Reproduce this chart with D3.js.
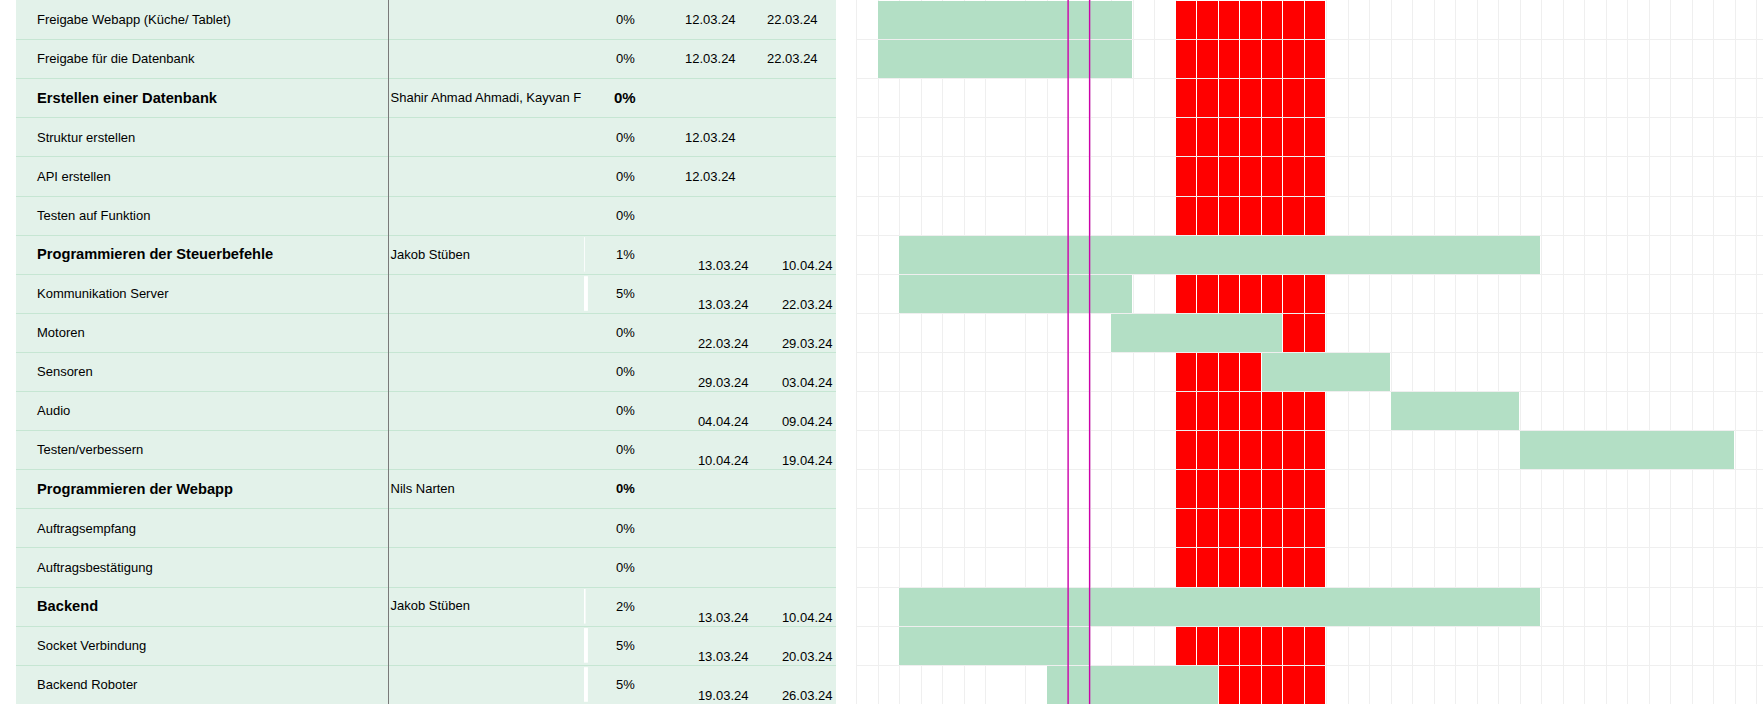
<!DOCTYPE html>
<html>
<head>
<meta charset="utf-8">
<script src="https://cdn.jsdelivr.net/npm/d3@7"></script>
<style>
  html, body { margin: 0; padding: 0; background: #ffffff; }
  svg { display: block; }
  text { font-family: 'Liberation Sans', Arial, sans-serif; fill: #000; }
</style>
</head>
<body>
<svg id="chart" width="1763" height="704"></svg>
<script>
// ---------------- DATA ----------------
const tasks = [
  "Freigabe Webapp (Küche/ Tablet)",
  "Freigabe für die Datenbank",
  "Erstellen einer Datenbank",
  "Struktur erstellen",
  "API erstellen",
  "Testen auf Funktion",
  "Programmieren der Steuerbefehle",
  "Kommunikation Server",
  "Motoren",
  "Sensoren",
  "Audio",
  "Testen/verbessern",
  "Programmieren der Webapp",
  "Auftragsempfang",
  "Auftragsbestätigung",
  "Backend",
  "Socket Verbindung",
  "Backend Roboter"
];
const isGroup = [false,false,true,false,false,false,true,false,false,false,false,false,true,false,false,true,false,false];
const assignees = ["","","Shahir Ahmad Ahmadi, Kayvan F","","","","Jakob Stüben","","","","","","Nils Narten","","","Jakob Stüben","",""];
const progress = [0,0,0,0,0,0,1,5,0,0,0,0,0,0,0,2,5,5];
const startDates = ["12.03.24","12.03.24","","12.03.24","12.03.24","","13.03.24","13.03.24","22.03.24","29.03.24","04.04.24","10.04.24","","","","13.03.24","13.03.24","19.03.24"];
const endDates   = ["22.03.24","22.03.24","","","","","10.04.24","22.03.24","29.03.24","03.04.24","09.04.24","19.04.24","","","","10.04.24","20.03.24","26.03.24"];
const holidayRange = ["25.03.24", "31.03.24"];
const todayDate = "20.03.24";
const calendarRange = ["11.03.24", "22.04.24"];
// the sheet's 17.03 column is wider than the others
const wideColumn = "17.03.24";

// ---------------- LAYOUT ----------------
const W = 1763, H = 704;
const rowH = 39.1;
const panelX0 = 16, panelX1 = 836;
const nameX = 37, assigneeX = 390.5, dividerX = 388.5;
const progX = 584, progW = 78;
const pctX = 616;
const parse = d3.utcParse("%d.%m.%y");

const svg = d3.select("#chart");

const y = d3.scaleLinear().domain([0, tasks.length]).range([0, rowH * tasks.length]);

const calStart = parse(calendarRange[0]);
const calEnd = parse(calendarRange[1]);
const wideStart = parse(wideColumn);
const wideEnd = d3.utcDay.offset(wideStart, 1);
const x = d3.scaleUtc()
  .domain([calStart, wideStart, wideEnd, calEnd])
  .range([856.2, 985.4, 1025.3, 1777.8]);

const days = d3.utcDay.range(calStart, calEnd);

// ---------------- LEFT PANEL ----------------
const panel = svg.append("g");
panel.append("rect")
  .attr("x", panelX0).attr("y", 0)
  .attr("width", panelX1 - panelX0).attr("height", H)
  .attr("fill", "#e3f2ea");

panel.selectAll("line.rowsep")
  .data(d3.range(1, tasks.length))
  .join("line")
  .attr("x1", panelX0).attr("x2", panelX1)
  .attr("y1", d => Math.round(y(d)) + 0.5).attr("y2", d => Math.round(y(d)) + 0.5)
  .attr("stroke", "#c6e6d3").attr("stroke-width", 1);

panel.append("line")
  .attr("x1", dividerX).attr("x2", dividerX)
  .attr("y1", 0).attr("y2", H)
  .attr("stroke", "#7a7a7a").attr("stroke-width", 1);

const rows = panel.selectAll("g.row")
  .data(tasks.map((t, i) => ({ i, t })))
  .join("g")
  .attr("class", "row");

// progress bars
rows.filter(d => progress[d.i] > 0)
  .append("rect")
  .attr("x", progX)
  .attr("y", d => y(d.i) + 2.5)
  .attr("width", d => progress[d.i] / 100 * progW)
  .attr("height", rowH - 4.5)
  .attr("fill", "#ffffff");

// task names
rows.append("text")
  .attr("x", nameX)
  .attr("y", d => y(d.i) + rowH / 2 + (isGroup[d.i] ? 5.3 : 4.7))
  .attr("font-size", d => isGroup[d.i] ? 14.67 : 13)
  .attr("font-weight", d => isGroup[d.i] ? 700 : 400)
  .text(d => d.t);

// assignees
rows.filter(d => assignees[d.i])
  .append("text")
  .attr("x", assigneeX)
  .attr("y", d => y(d.i) + rowH / 2 + 4.4)
  .attr("font-size", 13)
  .text(d => assignees[d.i]);

// percents
const pctStyle = { 2: { size: 15, weight: 700, dx: -2 }, 12: { size: 13, weight: 700, dx: 0 } };
rows.append("text")
  .attr("x", d => pctX + (pctStyle[d.i] ? pctStyle[d.i].dx : 0))
  .attr("y", d => y(d.i) + rowH / 2 + (pctStyle[d.i] ? pctStyle[d.i].size * 0.36 : 4.7))
  .attr("font-size", d => pctStyle[d.i] ? pctStyle[d.i].size : 13)
  .attr("font-weight", d => pctStyle[d.i] ? pctStyle[d.i].weight : 400)
  .text(d => progress[d.i] + "%");

// dates: first block centred & left aligned, later block bottom & right aligned
const bottomAlignedFrom = 6;
function dateAttrs(sel, which) {
  sel.attr("font-size", 13)
    .attr("x", d => d.i < bottomAlignedFrom ? (which === 0 ? 685 : 767) : (which === 0 ? 748.5 : 832.5))
    .attr("text-anchor", d => d.i < bottomAlignedFrom ? "start" : "end")
    .attr("y", d => d.i < bottomAlignedFrom ? y(d.i) + rowH / 2 + 4.7 : y(d.i) + rowH - 3.9);
}
rows.filter(d => startDates[d.i]).append("text")
  .call(dateAttrs, 0).text(d => startDates[d.i]);
rows.filter(d => endDates[d.i]).append("text")
  .call(dateAttrs, 1).text(d => endDates[d.i]);

// ---------------- GANTT AREA ----------------
const gantt = svg.append("g");
gantt.append("rect")
  .attr("x", panelX1).attr("y", 0)
  .attr("width", W - panelX1).attr("height", H)
  .attr("fill", "#ffffff");

// vertical grid (day boundaries)
gantt.selectAll("line.vgrid")
  .data(days.concat([calEnd]))
  .join("line")
  .attr("x1", d => Math.round(x(d)) + 0.5).attr("x2", d => Math.round(x(d)) + 0.5)
  .attr("y1", 0).attr("y2", H)
  .attr("stroke", "#efefef").attr("stroke-width", 1);

// horizontal grid
gantt.selectAll("line.hgrid")
  .data(d3.range(1, tasks.length))
  .join("line")
  .attr("x1", x(calStart)).attr("x2", W)
  .attr("y1", d => Math.round(y(d)) + 0.5).attr("y2", d => Math.round(y(d)) + 0.5)
  .attr("stroke", "#efefef").attr("stroke-width", 1);

// holiday cells
const holidays = d3.utcDay.range(parse(holidayRange[0]), d3.utcDay.offset(parse(holidayRange[1]), 1));
const cells = [];
tasks.forEach((t, i) => holidays.forEach(h => cells.push({ i, h })));
gantt.selectAll("rect.hol")
  .data(cells)
  .join("rect")
  .attr("shape-rendering", "crispEdges")
  .attr("x", d => Math.round(x(d.h)))
  .attr("y", d => Math.round(y(d.i)) + 1)
  .attr("width", d => Math.round(x(d3.utcDay.offset(d.h, 1))) - Math.round(x(d.h)) - 1)
  .attr("height", d => Math.min(H, Math.round(y(d.i + 1))) - Math.round(y(d.i)) - (d.i === tasks.length - 1 ? 1 : 1))
  .attr("fill", "#ff0000");

// task bars
const bars = tasks.map((t, i) => ({ i, s: startDates[i], e: endDates[i] })).filter(d => d.s && d.e);
gantt.selectAll("rect.bar")
  .data(bars)
  .join("rect")
  .attr("shape-rendering", "crispEdges")
  .attr("x", d => Math.round(x(parse(d.s))))
  .attr("y", d => Math.round(y(d.i)) + 1)
  .attr("width", d => Math.round(x(d3.utcDay.offset(parse(d.e), 1))) - Math.round(x(parse(d.s))) - 1)
  .attr("height", d => Math.min(H, Math.round(y(d.i + 1))) - Math.round(y(d.i)) - 1)
  .attr("fill", "#b3dfc5");

// today markers (left & right border of the current day)
const today = parse(todayDate);
gantt.selectAll("line.today")
  .data([today, d3.utcDay.offset(today, 1)])
  .join("line")
  .attr("x1", d => x(d) - 0.2).attr("x2", d => x(d) - 0.2)
  .attr("y1", 0).attr("y2", H)
  .attr("stroke", "#cc00aa").attr("stroke-width", 1.4);
</script>
</body>
</html>
